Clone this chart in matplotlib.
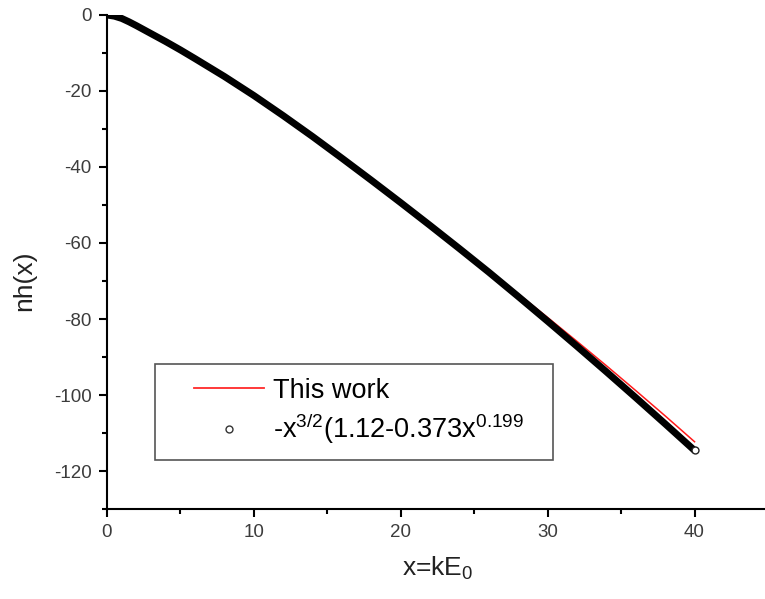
import matplotlib
matplotlib.use("Agg")
import matplotlib.pyplot as plt
from matplotlib.lines import Line2D
from matplotlib.patches import Rectangle
from matplotlib.ticker import MultipleLocator

plt.rcParams['font.family'] = ['Liberation Sans', 'DejaVu Sans']
plt.rcParams['mathtext.fontset'] = 'custom'
plt.rcParams['mathtext.rm'] = 'Liberation Sans'
plt.rcParams['mathtext.it'] = 'Liberation Sans'
plt.rcParams['axes.unicode_minus'] = False

# Data
x_fit = [0, 0.5, 1, 1.5, 2, 3, 4, 5, 6, 8, 10, 12, 14, 16, 18, 20, 22, 24,
         26, 28, 30, 32, 34, 36, 38, 40]
y_fit = [0, -0.3, -0.9, -1.8, -2.8, -4.9, -7.0, -9.2, -11.5, -16.2, -21.2,
         -26.5, -32.0, -37.7, -43.5, -49.4, -55.4, -61.5, -67.7, -74.1,
         -80.6, -87.2, -93.9, -100.7, -107.6, -114.6]

x_work = [0, 0.5, 1, 1.5, 2, 3, 4, 5, 6, 8, 10, 12, 14, 16, 18, 20, 22, 24,
          26, 28, 30, 32, 34, 36, 38, 40]
y_work = [0, -0.3, -0.9, -1.8, -2.8, -4.9, -7.0, -9.2, -11.5, -16.2, -21.2,
          -26.5, -32.0, -37.7, -43.5, -49.4, -55.4, -61.3, -67.3, -73.4,
          -79.6, -85.9, -92.3, -98.85, -105.5, -112.3]

label_work = "This work"
label_fit = r"-x$^{\mathrm{3/2}}$(1.12-0.373x$^{\mathrm{0.199}}$"

W, H = 765, 599
fig = plt.figure(figsize=(W / 100, H / 100), dpi=100)
ax = fig.add_axes([107 / W, (H - 509) / H, (768 - 107) / W, (509 - 15) / H])

ax.plot(x_work, y_work, color='#ff1a1a', lw=1.1, zorder=2)
ax.plot(x_fit, y_fit, color='black', lw=5.0, solid_capstyle='round',
        solid_joinstyle='round', zorder=3)
ax.plot(x_fit[-1:], y_fit[-1:], ls='none', marker='o', ms=5, mfc='white',
        mec='#222222', mew=1.0, zorder=4)

ax.set_xlim(0, 45)
ax.set_ylim(-130, 0)
ax.xaxis.set_major_locator(MultipleLocator(10))
ax.xaxis.set_minor_locator(MultipleLocator(5))
ax.yaxis.set_major_locator(MultipleLocator(20))
ax.yaxis.set_minor_locator(MultipleLocator(10))

for s in ['top', 'right']:
    ax.spines[s].set_visible(False)
for s in ['left', 'bottom']:
    ax.spines[s].set_linewidth(1.5)
    ax.spines[s].set_color('black')

ax.tick_params(which='major', direction='out', length=6, width=1.5,
               labelsize=13.5, labelcolor='#3c3c3c', pad=5)
ax.tick_params(which='minor', direction='out', length=3.5, width=1.5)

ax.set_xlabel(r"x=kE$_{\mathrm{0}}$", fontsize=19, color='#222222')
ax.set_ylabel("nh(x)", fontsize=19, color='#222222')
ax.xaxis.set_label_coords((438 - 107) / 661, -(555 - 509) / 494)
ax.yaxis.set_label_coords((36 - 107) / 661, (509 - 281) / 494)

# Legend frame
fig.add_artist(Rectangle((155 / W, (H - 460) / H), 398 / W, 96 / H,
                         transform=fig.transFigure, facecolor='white',
                         edgecolor='#555555', lw=1.2, zorder=5))

handles = [Line2D([], [], color='#ff2a2a', lw=1.3),
           Line2D([], [], ls='none', marker='o', ms=5, mfc='white',
                  mec='#333333', mew=1.0)]
leg = fig.legend(handles, [label_work, label_fit], loc='center left',
                 bbox_to_anchor=(194 / W, 1 - 412 / H),
                 bbox_transform=fig.transFigure, frameon=False, fontsize=19.5,
                 handlelength=2.6, handletextpad=0.3, borderpad=0,
                 borderaxespad=0, labelspacing=0.3)
leg.set_zorder(6)

fig.savefig("out.png", dpi=100)
